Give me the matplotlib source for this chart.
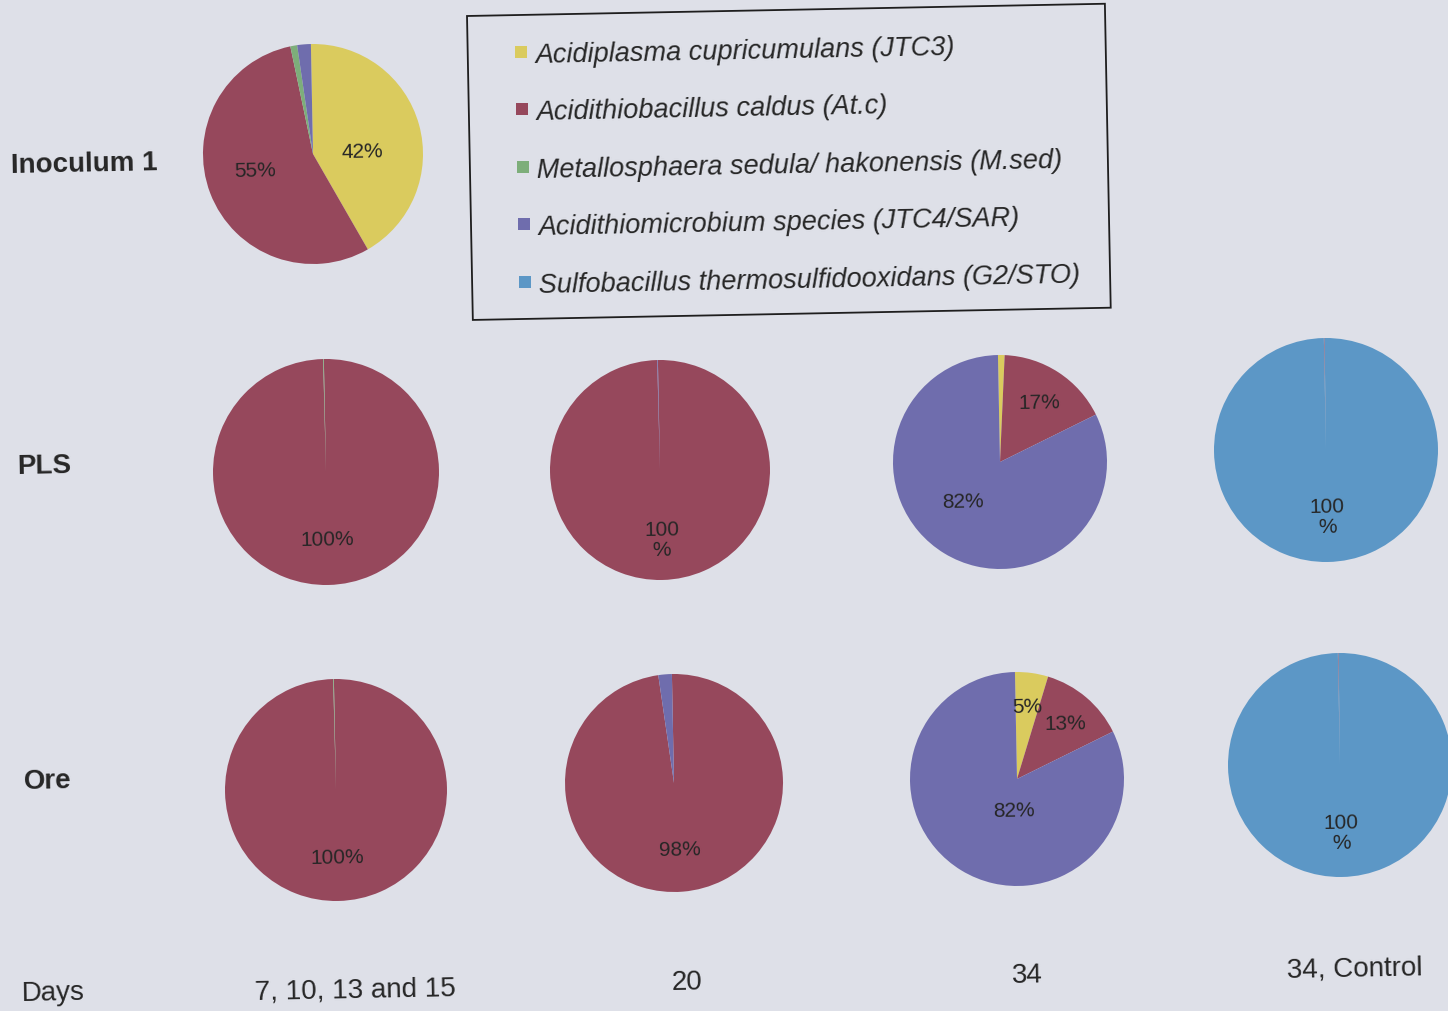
import numpy as np
import matplotlib
matplotlib.use("Agg")
import matplotlib.pyplot as plt
from matplotlib.patches import Polygon, Rectangle

plt.rcParams["font.family"] = ["Liberation Sans", "DejaVu Sans"]

# ---------------------------------------------------------------- data
species = [
    "Acidiplasma cupricumulans (JTC3)",
    "Acidithiobacillus caldus (At.c)",
    "Metallosphaera sedula/ hakonensis (M.sed)",
    "Acidithiomicrobium species (JTC4/SAR)",
    "Sulfobacillus thermosulfidooxidans (G2/STO)",
]
species_colors = ["#DACB5E", "#96485C", "#7DAE7A", "#6F6DAD", "#5C97C6"]

row_labels = ["Inoculum 1", "PLS", "Ore"]
day_labels = ["7, 10, 13 and 15", "20", "34", "34, Control"]

# relative abundance (%) per species, in the order of `species`
inoculum_1 = [42, 55, 1, 2, 0]

pls_day7_15 = [0, 100, 0.1, 0, 0]
pls_day20 = [0, 100, 0, 0.1, 0]
pls_day34 = [1, 17, 0, 82, 0]
pls_control = [0, 0.1, 0, 0, 100]

ore_day7_15 = [0, 100, 0.1, 0, 0]
ore_day20 = [0, 98, 0, 2, 0]
ore_day34 = [5, 13, 0, 82, 0]
ore_control = [0, 0.1, 0, 0, 100]

# ---------------------------------------------------------------- layout
W, H, DPI = 1448, 1012, 100
TILT = 1.1           # page tilt in degrees
BG = "#DEE0E8"
INK = "#262626"

fig = plt.figure(figsize=(W / DPI, H / DPI), dpi=DPI, facecolor=BG)


def fx(x):
    return x / W


def fy(y):
    return 1 - y / H


def pie_at(values, cx, cy, r, pctdist=0.6, wrap=False, moves=None):
    ax = fig.add_axes([fx(cx - r), fy(cy + r), 2 * r / W, 2 * r / H])

    def fmt(p):
        if p < 4.5:
            return ""
        s = f"{p:.0f}"
        return s + ("\n%" if wrap else "%")

    wedges, _, autotexts = ax.pie(
        values, colors=species_colors, radius=1, startangle=90 + TILT,
        counterclock=False, autopct=fmt, pctdistance=pctdist,
        wedgeprops=dict(linewidth=0),
        textprops=dict(fontsize=15, color=INK, rotation=TILT,
                       linespacing=1.1))
    ax.set_xlim(-1, 1)
    ax.set_ylim(-1, 1)
    ax.set_aspect("equal")
    ax.axis("off")
    if moves:
        for idx, pos in moves.items():
            autotexts[idx].set_position(pos)
    return ax


# top row
pie_at(inoculum_1, 313, 155, 110, pctdist=0.52,
       moves={0: (0.45, 0.03), 1: (-0.53, -0.15)})

# PLS row
pie_at(pls_day7_15, 326, 473, 113, pctdist=0.59)
pie_at(pls_day20, 660, 471, 110, pctdist=0.63, wrap=True)
pie_at(pls_day34, 1000, 463, 107, pctdist=0.67, moves={3: (-0.35, -0.37)})
pie_at(pls_control, 1326, 451, 112, pctdist=0.59, wrap=True)

# Ore row
pie_at(ore_day7_15, 336, 791, 111, pctdist=0.6)
pie_at(ore_day20, 674, 784, 109, pctdist=0.61)
pie_at(ore_day34, 1017, 780, 107, pctdist=0.69, moves={3: (-0.03, -0.29)})
pie_at(ore_control, 1340, 766, 112, pctdist=0.6, wrap=True)

# ---------------------------------------------------------------- legend
a = np.deg2rad(TILT)
ex = np.array([np.cos(a), -np.sin(a)])   # along the box (pixels, y down)
ey = np.array([np.sin(a), np.cos(a)])    # down the box
tl = np.array([467.0, 17.0])
bw, bh = 638, 304


def local(u, v):
    p = tl + u * ex + v * ey
    return fx(p[0]), fy(p[1])


corners = [local(0, 0), local(bw, 0), local(bw, bh), local(0, bh)]
fig.add_artist(Polygon(corners, closed=True, fill=False, edgecolor="#1E1E1E",
                       linewidth=1.3, transform=fig.transFigure))

sq = 12
for i, (name, col) in enumerate(zip(species, species_colors)):
    v = 37 + 57.5 * i
    mx, my = local(53, v)
    fig.add_artist(Rectangle((mx - sq / 2 / W, my - sq / 2 / H), sq / W, sq / H,
                             facecolor=col, edgecolor="none",
                             transform=fig.transFigure))
    tx, ty = local(67, v + 10)
    fig.text(tx, ty, name, fontsize=19.5, style="italic", color=INK,
             ha="left", va="baseline", rotation=TILT, rotation_mode="anchor")

# ---------------------------------------------------------------- row and day labels
row_pos = [(11, 173), (17, 474), (24, 789)]
for lab, (x, y) in zip(row_labels, row_pos):
    fig.text(fx(x), fy(y), lab, fontsize=20, fontweight="bold", color=INK,
             ha="left", va="baseline", rotation=TILT, rotation_mode="anchor")

fig.text(fx(22), fy(1001), "Days", fontsize=20, color=INK,
         ha="left", va="baseline", rotation=TILT, rotation_mode="anchor")

day_pos = [(355, 998), (687, 990), (1027, 983), (1355, 976)]
for lab, (x, y) in zip(day_labels, day_pos):
    fig.text(fx(x), fy(y), lab, fontsize=20, color=INK,
             ha="center", va="baseline", rotation=TILT, rotation_mode="anchor")

fig.savefig("out.png", dpi=DPI, facecolor=BG)
